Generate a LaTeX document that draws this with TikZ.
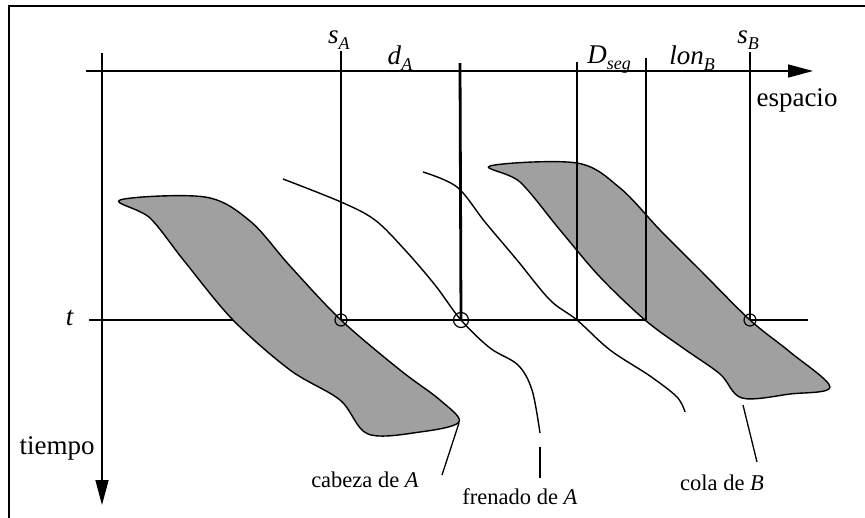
\documentclass[tikz,border=0pt]{standalone}
\usepackage{fontspec}
\setmainfont{Liberation Serif}
\usetikzlibrary{arrows.meta}
\definecolor{ink}{HTML}{000000}
\definecolor{shade}{HTML}{A0A0A0}
\newcommand{\idx}[2]{\textit{#1}\raisebox{-0.22em}{\fontsize{18}{18}\selectfont\textit{#2}}}

\begin{document}
\begin{tikzpicture}[
  x=1pt,y=-1pt,
  every node/.style={inner sep=0pt,font=\fontsize{27}{30}\selectfont},
  note/.style={font=\fontsize{22.5}{26}\selectfont},
  axis/.style={line width=1.5pt,draw=ink,-{Triangle[length=25pt,width=13pt]}},
  posline/.style={line width=1.5pt,draw=ink},
  curve/.style={line width=1.4pt,draw=ink,line join=round},
  body/.style={curve,fill=shade},
  hit/.style={circle,draw=ink,line width=1.2pt,minimum size=12pt},
  leader/.style={line width=1.3pt,draw=ink}
]
\useasboundingbox (0,0) rectangle (865,517);
\clip (0,0) rectangle (865,517);
\draw[line width=2pt] (9,6) rectangle (880,530);

% axes
\coordinate (xs) at (86,71);
\coordinate (xe) at (813,71);
\coordinate (ts) at (102,53);
\coordinate (te) at (102,505);
\draw[axis] (xs) -- (xe);
\draw[axis] (ts) -- (te);
\node (esp) at (797,100) {espacio};
\node (tiem) at (57,448) {tiempo};

% instant t
\node (t) at (70,318) {\textit{t}};
\coordinate (tl) at (89,320);
\coordinate (tr) at (808,320);
\draw[posline] (tl) -- (tr);

% vehicles A and B
\draw[body] plot[smooth cycle,tension=0.55] coordinates {
  (120,200) (205,197) (250,221) (290,266) (341,320) (400,370)
  (440,400) (459,422) (420,432) (368,434) (340,400) (290,370)
  (233,320) (185,262) (150,218)};
\draw[body] plot[smooth cycle,tension=0.55] coordinates {
  (490,166) (577,163) (620,188) (660,230) (700,270) (750,320)
  (790,352) (830,387) (790,394) (742,398) (720,374) (683,348)
  (645,320) (600,277) (560,230) (520,182)};

% braking curves
\draw[curve] plot[smooth,tension=0.55] coordinates {
  (283,179) (341,202) (375,220) (405,250) (435,285) (461,320)
  (490,348) (518,365) (532,390) (540,433)};
\draw[curve] plot[smooth,tension=0.55] coordinates {
  (423,172) (457,187) (485,222) (517,260) (550,300) (577,320)
  (610,350) (650,376) (677,397) (685,412)};

% positions on the space axis
\node (sA) at (339,40) {\idx{s}{A}};
\node (dA) at (400,58) {\idx{d}{A}};
\node (Dseg) at (609,60) {\idx{D}{seg}};
\node (lonB) at (692,58) {\idx{lon}{B}};
\node (sB) at (748,40) {\idx{s}{B}};
\coordinate (sAt) at (341,51);
\coordinate (fAt) at (460,63);
\coordinate (Dt) at (577,62);
\coordinate (lBt) at (646,58);
\coordinate (sBt) at (750,52);
\node[hit] (hA) at (341,320) {};
\node[hit,minimum size=15pt] (hF) at (461,320) {};
\node[hit] (hB) at (750,320) {};
\draw[posline] (sAt) -- (hA.center);
\draw[line width=2.8pt] (fAt) -- (hF.center);
\draw[posline] (Dt) -- (577,320);
\draw[posline] (lBt) -- (646,320);
\draw[posline] (sBt) -- (hB.center);

% notes
\node[note] (cab) at (365,480) {cabeza de \textit{A}};
\node[note] (fre) at (520,497) {frenado de \textit{A}};
\node[note] (col) at (722,483) {cola de \textit{B}};
\coordinate (cabT) at (459,423);
\coordinate (cabE) at (442,475);
\coordinate (freT) at (540,447);
\coordinate (freE) at (540,478);
\coordinate (colT) at (743,405);
\coordinate (colE) at (757,462);
\draw[leader] (cabT) -- (cabE);
\draw[leader] (freT) -- (freE);
\draw[leader] (colT) -- (colE);
\end{tikzpicture}
\end{document}
